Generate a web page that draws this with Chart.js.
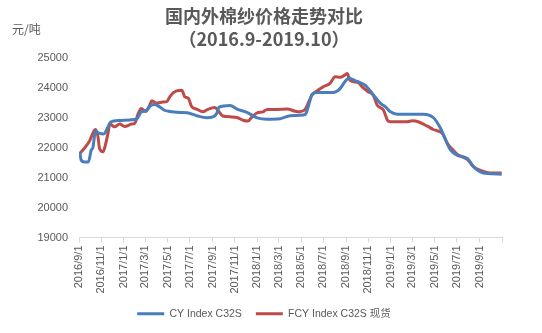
<!DOCTYPE html>
<html>
<head>
<meta charset="utf-8">
<script src="https://cdn.jsdelivr.net/npm/chart.js@4.4.0/dist/chart.umd.min.js"></script>
<style>
  html, body { margin: 0; padding: 0; background: #fff; }
  #wrap { width: 542px; height: 333px; position: relative; }
</style>
</head>
<body>
<div id="wrap"><canvas id="myChart"></canvas></div>
<script>
// axis labels every two months, last tick closes the axis
const tickLabels = ['2016/9/1', '2016/11/1', '2017/1/1', '2017/3/1', '2017/5/1', '2017/7/1', '2017/9/1',
    '2017/11/1', '2018/1/1', '2018/3/1', '2018/5/1', '2018/7/1', '2018/9/1', '2018/11/1',
    '2019/1/1', '2019/3/1', '2019/5/1', '2019/7/1', '2019/9/1', '2019/11/1'];

const cyDates = ['2016-09-03', '2016-09-07', '2016-09-16', '2016-09-27', '2016-10-04', '2016-10-09', '2016-10-16',
    '2016-10-25', '2016-11-08', '2016-11-19', '2016-11-26', '2016-12-21', '2017-01-18', '2017-02-06',
    '2017-02-17', '2017-03-05', '2017-03-16', '2017-03-27', '2017-04-10', '2017-04-21', '2017-05-07',
    '2017-06-04', '2017-06-23', '2017-07-20', '2017-08-16', '2017-09-02', '2017-09-13', '2017-09-18',
    '2017-10-19', '2017-11-07', '2017-12-04', '2018-01-01', '2018-01-28', '2018-03-05', '2018-04-01',
    '2018-05-07', '2018-05-15', '2018-05-23', '2018-05-31', '2018-06-14', '2018-07-28', '2018-08-10',
    '2018-08-18', '2018-08-29', '2018-09-08', '2018-10-01', '2018-10-23', '2018-11-14', '2018-12-04',
    '2018-12-17', '2018-12-31', '2019-01-19', '2019-02-15', '2019-03-31', '2019-04-27', '2019-05-17',
    '2019-05-31', '2019-06-13', '2019-07-02', '2019-07-30', '2019-08-15', '2019-09-03', '2019-09-22',
    '2019-10-31'];
const cyValues = [21850, 21580, 21520, 21520, 21900, 22000, 22540, 22480, 22450, 22680, 22850, 22900,
    22920, 22950, 23170, 23240, 23400, 23430, 23350, 23250, 23200, 23170, 23160, 23060, 22990, 23020,
    23150, 23340, 23400, 23280, 23170, 22990, 22945, 22960, 23060, 23080, 23150, 23470, 23770, 23830,
    23830, 23900, 24000, 24200, 24310, 24200, 24080, 23760, 23470, 23360, 23190, 23110, 23110, 23110,
    23000, 22640, 22250, 21920, 21740, 21630, 21360, 21190, 21130, 21110];

const fcyDates = ['2016-09-03', '2016-09-16', '2016-09-30', '2016-10-08', '2016-10-16', '2016-10-23', '2016-10-27',
    '2016-11-06', '2016-11-13', '2016-11-20', '2016-11-24', '2016-12-07', '2016-12-21', '2017-01-04',
    '2017-01-23', '2017-01-31', '2017-02-10', '2017-02-18', '2017-03-02', '2017-03-13', '2017-03-19',
    '2017-04-01', '2017-04-18', '2017-04-29', '2017-05-07', '2017-05-17', '2017-05-26', '2017-06-09',
    '2017-06-17', '2017-06-27', '2017-07-06', '2017-07-20', '2017-08-05', '2017-08-19', '2017-09-07',
    '2017-09-15', '2017-09-29', '2017-10-24', '2017-11-09', '2017-11-23', '2017-12-07', '2017-12-18',
    '2017-12-31', '2018-01-17', '2018-01-28', '2018-02-24', '2018-03-24', '2018-04-15', '2018-04-28',
    '2018-05-12', '2018-05-20', '2018-05-31', '2018-06-14', '2018-06-30', '2018-07-19', '2018-08-02',
    '2018-08-16', '2018-08-29', '2018-09-04', '2018-09-11', '2018-10-04', '2018-10-15', '2018-10-31',
    '2018-11-14', '2018-11-25', '2018-12-12', '2018-12-23', '2018-12-31', '2019-02-15', '2019-03-01',
    '2019-03-17', '2019-04-11', '2019-04-27', '2019-05-22', '2019-06-05', '2019-06-19', '2019-07-02',
    '2019-07-30', '2019-08-15', '2019-09-09', '2019-09-30', '2019-10-31'];
const fcyValues = [21800, 21980, 22220, 22450, 22600, 22350, 21970, 21860, 22130, 22520, 22790, 22690,
    22780, 22700, 22780, 22800, 23140, 23300, 23200, 23410, 23560, 23480, 23520, 23530, 23690, 23830,
    23890, 23910, 23690, 23640, 23360, 23280, 23190, 23270, 23330, 23250, 23050, 23020, 22990, 22910,
    22880, 23020, 23150, 23190, 23270, 23270, 23280, 23210, 23190, 23270, 23470, 23750, 23890, 24020,
    24140, 24360, 24340, 24420, 24470, 24250, 24160, 24020, 23860, 23750, 23410, 23250, 22910, 22860,
    22860, 22890, 22860, 22710, 22600, 22470, 22130, 21930, 21770, 21600, 21360, 21210, 21150, 21150];

const seriesNames = ['CY Index C32S', 'FCY Index C32S 现货'];
const seriesColors = ['#4a7ebb', '#be4b48'];

const textColor = '#595959';
const latin = '"Liberation Sans", "Noto Sans CJK SC", sans-serif';

// days since the first axis tick
const dayNum = (str) => {
    const p = str.split(/[-\/]/).map(Number);
    return (Date.UTC(p[0], p[1] - 1, p[2]) - Date.UTC(2016, 8, 1)) / 86400000;
};

const tickDays = tickLabels.map(dayNum);

const toPoints = (dates, values) => dates.map((d, i) => ({ x: dayNum(d), y: values[i] }));

// unit label above the value axis
const unitLabel = {
    id: 'unitLabel',
    afterDraw(chart) {
        const ctx = chart.ctx;
        ctx.save();
        ctx.font = '12px "Noto Sans CJK SC", sans-serif';
        ctx.fillStyle = textColor;
        ctx.textBaseline = 'middle';
        ctx.fillText('元/吨', 12, 29);
        ctx.restore();
    }
};

const data = {
    datasets: [
        {
            label: seriesNames[0],
            data: toPoints(cyDates, cyValues),
            borderColor: seriesColors[0],
            backgroundColor: seriesColors[0],
            borderWidth: 3,
            pointRadius: 0,
            cubicInterpolationMode: 'monotone'
        },
        {
            label: seriesNames[1],
            data: toPoints(fcyDates, fcyValues),
            borderColor: seriesColors[1],
            backgroundColor: seriesColors[1],
            borderWidth: 3,
            pointRadius: 0,
            cubicInterpolationMode: 'monotone'
        }
    ]
};

const config = {
    type: 'line',
    data: data,
    options: {
        responsive: false,
        animation: false,
        layout: {
            padding: { left: 0, right: 14, top: 0, bottom: 4 }
        },
        plugins: {
            title: {
                display: true,
                text: ['国内外棉纱价格走势对比', '（2016.9-2019.10）'],
                color: textColor,
                font: { family: '"Noto Sans CJK SC", sans-serif', size: 18, weight: 'bold', lineHeight: 1.25 },
                padding: { top: 5, bottom: 7.5 }
            },
            legend: {
                position: 'bottom',
                labels: {
                    color: textColor,
                    font: { family: latin, size: 10.5 },
                    boxWidth: 27,
                    boxHeight: 3,
                    padding: 14,
                    generateLabels: (chart) => {
                        const items = Chart.defaults.plugins.legend.labels.generateLabels(chart);
                        items.forEach(item => {
                            item.fillStyle = item.strokeStyle;
                            item.lineWidth = 0;
                        });
                        return items;
                    }
                }
            },
            tooltip: { enabled: false }
        },
        scales: {
            x: {
                type: 'linear',
                min: 0,
                max: tickDays[tickDays.length - 1],
                afterBuildTicks: (scale) => {
                    scale.ticks = tickDays.map(v => ({ value: v }));
                },
                afterFit: (scale) => {
                    scale.height = 57;
                },
                grid: {
                    drawOnChartArea: false,
                    drawTicks: true,
                    tickLength: 5,
                    color: '#d9d9d9'
                },
                border: { display: true, color: '#d9d9d9' },
                ticks: {
                    autoSkip: false,
                    maxRotation: 90,
                    minRotation: 90,
                    padding: 3,
                    color: textColor,
                    font: { family: latin, size: 11 },
                    callback: (value, index) => index < tickLabels.length - 1 ? tickLabels[index] : ''
                }
            },
            y: {
                min: 19000,
                max: 25000,
                afterFit: (scale) => {
                    scale.width = 79;
                },
                grid: { display: false, drawTicks: false },
                border: { display: false },
                ticks: {
                    stepSize: 1000,
                    padding: 11,
                    color: textColor,
                    font: { family: latin, size: 11 },
                    callback: (value) => String(value)
                }
            },
            // keeps the plot clear of the right edge
            spacer: {
                position: 'right',
                display: true,
                grid: { display: false },
                border: { display: false },
                ticks: { display: false },
                afterFit: (scale) => {
                    scale.width = 26;
                }
            }
        }
    },
    plugins: [unitLabel]
};

const canvas = document.getElementById('myChart');
canvas.width = 542;
canvas.height = 333;
const myChart = new Chart(canvas, config);
</script>
</body>
</html>
